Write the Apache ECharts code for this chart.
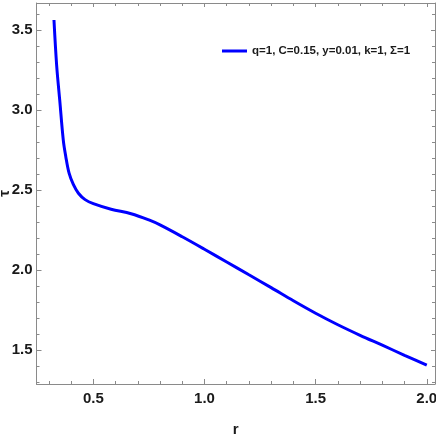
<!DOCTYPE html>
<html>
<head>
<meta charset="utf-8">
<script src="https://cdn.jsdelivr.net/npm/echarts@6/dist/echarts.min.js"></script>
<style>
  html, body { margin: 0; padding: 0; background: #fff; }
  #chart { width: 436px; height: 436px; }
</style>
</head>
<body>
<div id="chart"></div>
<script>
// data
const rValues = [0.323, 0.335, 0.349, 0.365, 0.376, 0.391, 0.41, 0.433, 0.463, 0.5, 0.58, 0.67, 0.75, 0.8, 0.9,
  1.0, 1.1, 1.2, 1.3, 1.4, 1.5, 1.6, 1.7, 1.8, 1.9, 2.0];
const tauValues = [3.5625, 3.28, 3.06, 2.81, 2.71, 2.605, 2.535, 2.48, 2.44, 2.415, 2.38, 2.352, 2.313, 2.282, 2.208,
  2.13, 2.05, 1.97, 1.89, 1.808, 1.73, 1.658, 1.592, 1.53, 1.467, 1.406];
const seriesName = 'q=1, C=0.15, y=0.01, k=1, \u03a3=1';

const xMajor = [0.5, 1.0, 1.5, 2.0];
const xMinor = [0.3, 0.4, 0.6, 0.7, 0.8, 0.9, 1.1, 1.2, 1.3, 1.4, 1.6, 1.7, 1.8, 1.9];
const yMajor = [1.5, 2.0, 2.5, 3.0, 3.5];
const yMinor = [1.3, 1.4, 1.6, 1.7, 1.8, 1.9, 2.1, 2.2, 2.3, 2.4, 2.6, 2.7, 2.8, 2.9, 3.1, 3.2, 3.3, 3.4, 3.6];

const X_MIN = 0.2444, X_MAX = 2.037;
const Y_MIN = 1.2875, Y_MAX = 3.669;

const frameColor = '#8a8a8a';
const labelFont = '"Liberation Sans Narrow", "Liberation Sans", Arial, sans-serif';

const chart = echarts.init(document.getElementById('chart'));

// one axis per tick layer (major/minor) and side (bottom/top, left/right)
function makeAxis(kind, pos, min, max, ticks, len, showLine, labels) {
  return {
    type: 'value',
    position: pos,
    min: min,
    max: max,
    axisLine: { show: showLine, onZero: false, lineStyle: { color: frameColor, width: 1 } },
    axisTick: { show: true, inside: true, length: len, customValues: ticks,
      lineStyle: { color: frameColor, width: 1 } },
    axisLabel: labels ? {
      show: true, customValues: ticks, formatter: v => v.toFixed(1),
      color: '#1a1a1a', fontFamily: labelFont, fontWeight: 'bold', fontSize: 15,
      margin: kind === 'x' ? 7 : 4
    } : { show: false },
    splitLine: { show: false }
  };
}

const xAxes = [
  makeAxis('x', 'bottom', X_MIN, X_MAX, xMajor, 5, true, true),
  makeAxis('x', 'bottom', X_MIN, X_MAX, xMinor, 3, false, false),
  makeAxis('x', 'top', X_MIN, X_MAX, xMajor, 4, true, false),
  makeAxis('x', 'top', X_MIN, X_MAX, xMinor, 3, false, false)
];
Object.assign(xAxes[0], {
  name: 'r', nameLocation: 'middle', nameGap: 38, nameMoveOverlap: false,
  nameTextStyle: { color: '#1a1a1a', fontFamily: labelFont, fontWeight: 'bold', fontSize: 15 }
});

const yAxes = [
  makeAxis('y', 'left', Y_MIN, Y_MAX, yMajor, 5, true, true),
  makeAxis('y', 'left', Y_MIN, Y_MAX, yMinor, 3, false, false),
  makeAxis('y', 'right', Y_MIN, Y_MAX, yMajor, 4, true, false),
  makeAxis('y', 'right', Y_MIN, Y_MAX, yMinor, 3, false, false)
];
Object.assign(yAxes[0], {
  name: '\u03c4', nameLocation: 'middle', nameGap: 24, nameRotate: 90, nameMoveOverlap: false,
  nameTextStyle: { color: '#1a1a1a', fontFamily: labelFont, fontWeight: 'bold', fontSize: 15 }
});

const option = {
  animation: false,
  backgroundColor: '#fff',
  grid: { left: 36.5, right: 1, top: 3, bottom: 52, containLabel: false, outerBoundsMode: 'none' },
  legend: {
    left: 217, top: 40,
    itemWidth: 25, itemHeight: 3, itemGap: 10,
    textStyle: { color: '#1a1a1a', fontFamily: labelFont, fontWeight: 'bold', fontSize: 11.5 },
    data: [{ name: seriesName, icon: 'rect' }]
  },
  xAxis: xAxes,
  yAxis: yAxes,
  series: [{
    name: seriesName,
    type: 'line',
    xAxisIndex: 0,
    yAxisIndex: 0,
    smooth: 0.35,
    showSymbol: false,
    lineStyle: { color: '#0000ff', width: 3 },
    itemStyle: { color: '#0000ff' },
    data: rValues.map((r, i) => [r, tauValues[i]])
  }]
};

chart.setOption(option);
window.addEventListener('resize', () => chart.resize());
</script>
</body>
</html>
